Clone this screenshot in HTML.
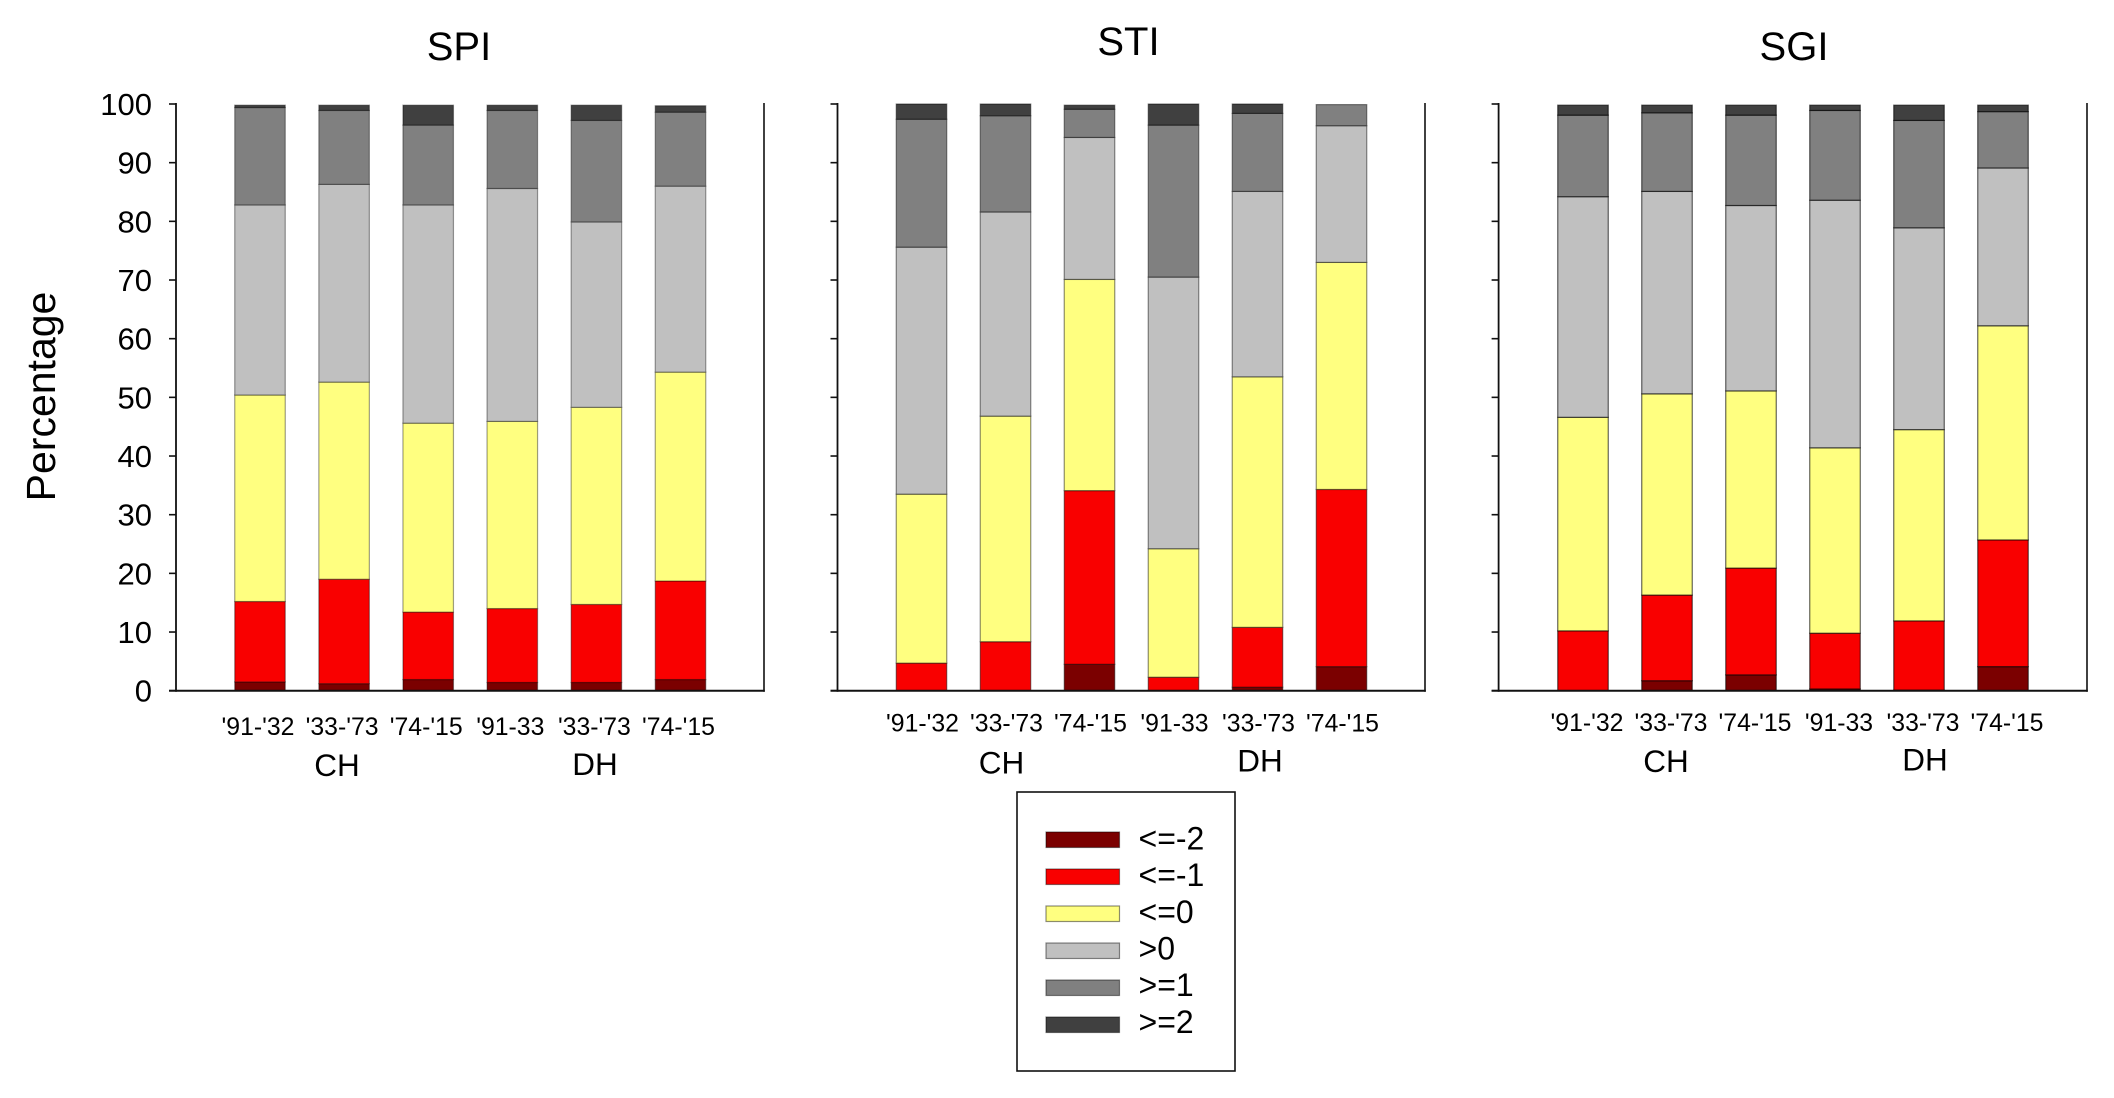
<!DOCTYPE html>
<html lang="en">
<head>
<meta charset="utf-8">
<title>SPI, STI and SGI percentage stacked bars</title>
<style>
html,body{margin:0;padding:0;background:#fff;}
body{width:2114px;height:1098px;overflow:hidden;}
svg{display:block;font-family:"Liberation Sans",Arial,sans-serif;fill:#000;}
</style>
</head>
<body>
<svg id="chart" xmlns="http://www.w3.org/2000/svg" width="2114" height="1098" viewBox="0 0 2114 1098">
<rect x="0" y="0" width="2114" height="1098" fill="#ffffff"/>
</svg>
<script>
// ---- Data ----
const categories = ["'91-'32", "'33-'73", "'74-'15", "'91-33", "'33-'73", "'74-'15"];
const yTicks = [0, 10, 20, 30, 40, 50, 60, 70, 80, 90, 100];
const legendLabels = ["<=-2", "<=-1", "<=0", ">0", ">=1", ">=2"];
const groupLabels = ["CH", "DH"];

const spiLe2 = [1.5, 1.2, 1.9, 1.4, 1.4, 1.9];
const spiLe1 = [13.7, 17.8, 11.5, 12.6, 13.3, 16.8];
const spiLe0 = [35.2, 33.6, 32.2, 31.9, 33.6, 35.6];
const spiGt0 = [32.4, 33.7, 37.2, 39.7, 31.6, 31.7];
const spiGe1 = [16.6, 12.6, 13.6, 13.3, 17.3, 12.6];
const spiGe2 = [0.4, 0.9, 3.4, 0.9, 2.6, 1.1];

const stiLe2 = [0, 0, 4.5, 0, 0.6, 4.1];
const stiLe1 = [4.7, 8.35, 29.6, 2.3, 10.2, 30.2];
const stiLe0 = [28.8, 38.45, 36.0, 21.9, 42.7, 38.7];
const stiGt0 = [42.1, 34.8, 24.2, 46.3, 31.6, 23.3];
const stiGe1 = [21.8, 16.4, 4.8, 25.9, 13.3, 3.6];
const stiGe2 = [2.6, 2.0, 0.7, 3.6, 1.6, 0];

const sgiLe2 = [0, 1.7, 2.7, 0.3, 0.1, 4.1];
const sgiLe1 = [10.2, 14.6, 18.2, 9.5, 11.8, 21.6];
const sgiLe0 = [36.4, 34.3, 30.2, 31.6, 32.6, 36.5];
const sgiGt0 = [37.6, 34.5, 31.6, 42.2, 34.4, 26.9];
const sgiGe1 = [13.9, 13.4, 15.4, 15.3, 18.3, 9.6];
const sgiGe2 = [1.7, 1.3, 1.7, 0.9, 2.6, 1.1];

const panelTitles = ["SPI", "STI", "SGI"];
const panelSeries = [
  [spiLe2, spiLe1, spiLe0, spiGt0, spiGe1, spiGe2],
  [stiLe2, stiLe1, stiLe0, stiGt0, stiGe1, stiGe2],
  [sgiLe2, sgiLe1, sgiLe0, sgiGt0, sgiGe1, sgiGe2]
];

// ---- Styling and layout ----
const bandColors = ["#7b0000", "#f90000", "#ffff80", "#c0c0c0", "#808080", "#404040"];
const bandKeys = ["le-minus-2", "le-minus-1", "le-0", "gt-0", "ge-1", "ge-2"];
const layouts = [
  {key: "spi", axisX: 176, rightX: 764, firstBar: 260, step: 84.1, titleX: 459, titleY: 60, tickY: 735, tickShift: -2, chX: 337, chY: 776, dhX: 595, dhY: 775, edge: 0.38},
  {key: "sti", axisX: 837.5, rightX: 1425, firstBar: 921.5, step: 84, titleX: 1128.5, titleY: 55, tickY: 731.5, tickShift: 1, chX: 1001.5, chY: 773.5, dhX: 1260, dhY: 771.5, edge: 0.45},
  {key: "sgi", axisX: 1498.6, rightX: 2087, firstBar: 1583, step: 84, titleX: 1794, titleY: 60, tickY: 731, tickShift: 4, chX: 1666, chY: 772, dhX: 1925, dhY: 770.5, edge: 0.6}
];
const plotTop = 104;
const plotBottom = 690.7;
const barWidth = 50.5;

const svg = document.getElementById("chart");
const NS = "http://www.w3.org/2000/svg";
function yScale(v) { return plotBottom - (v / 100) * (plotBottom - plotTop); }
function make(tag, props, parent) {
  const el = document.createElementNS(NS, tag);
  for (const k in props) el.setAttribute(k, props[k]);
  (parent || svg).appendChild(el);
  return el;
}

// ---- Panels ----
panelSeries.forEach(function (series, p) {
  const L = layouts[p];
  const g = make("g", {});
  
  

  const title = make("text", {x: L.titleX, y: L.titleY, "text-anchor": "middle", "font-size": 40}, g);
  title.textContent = panelTitles[p];
  
  

  categories.forEach(function (cat, c) {
    const cx = L.firstBar + c * L.step;
    let base = 0;
    series.forEach(function (vals, b) {
      const v = vals[c];
      if (v > 0) {
        const bar = make("rect", {
          x: cx - barWidth / 2,
          y: yScale(base + v),
          width: barWidth,
          height: yScale(base) - yScale(base + v),
          fill: bandColors[b],
          stroke: "#000",
          "stroke-opacity": L.edge,
          "stroke-width": 1.2
        }, g);
        
        
      }
      base += v;
    });
    const label = make("text", {x: cx + L.tickShift, y: L.tickY, "text-anchor": "middle", "font-size": 24.8}, g);
    label.textContent = cat;
    
    
  });

  const yAxis = make("line", {x1: L.axisX, x2: L.axisX, y1: plotTop - 1, y2: plotBottom + 1, stroke: "#111", "stroke-width": 1.8}, g);
  
  

  const rightLine = make("line", {x1: L.rightX, x2: L.rightX, y1: plotTop - 1, y2: plotBottom + 1, stroke: "#111", "stroke-width": 1.6}, g);
  
  

  const xAxis = make("line", {x1: L.axisX - 7, x2: L.rightX + 0.8, y1: plotBottom, y2: plotBottom, stroke: "#111", "stroke-width": 2}, g);
  
  

  yTicks.forEach(function (t) {
    const tick = make("line", {x1: L.axisX - 7, x2: L.axisX, y1: yScale(t), y2: yScale(t), stroke: "#111", "stroke-width": 1.6}, g);
    
    
    if (p === 0) {
      const tl = make("text", {x: 152, y: yScale(t) + 11, "text-anchor": "end", "font-size": 31}, g);
      tl.textContent = t;
      
      
    }
  });

  const ch = make("text", {x: L.chX, y: L.chY, "text-anchor": "middle", "font-size": 31.5}, g);
  ch.textContent = groupLabels[0];
  
  

  const dh = make("text", {x: L.dhX, y: L.dhY, "text-anchor": "middle", "font-size": 31.5}, g);
  dh.textContent = groupLabels[1];
  
  
});

// ---- Y axis title ----
const yTitle = make("text", {transform: "translate(55 396.5) rotate(-90)", "text-anchor": "middle", "font-size": 41});
yTitle.textContent = "Percentage";



// ---- Legend ----
const legend = make("g", {});



const legendBox = make("rect", {x: 1017, y: 792, width: 218, height: 279, fill: "#fff", stroke: "#111", "stroke-width": 1.6}, legend);



legendLabels.forEach(function (text, i) {
  const top = 832 + i * 37;
  const swatch = make("rect", {x: 1046, y: top, width: 73.5, height: 15.5, fill: bandColors[i], stroke: "#000", "stroke-opacity": 0.45, "stroke-width": 1.2}, legend);
  
  

  const label = make("text", {x: 1138.5, y: 849.5 + i * 36.65, "font-size": 32}, legend);
  label.textContent = text;
  
  
});
</script>
</body>
</html>
